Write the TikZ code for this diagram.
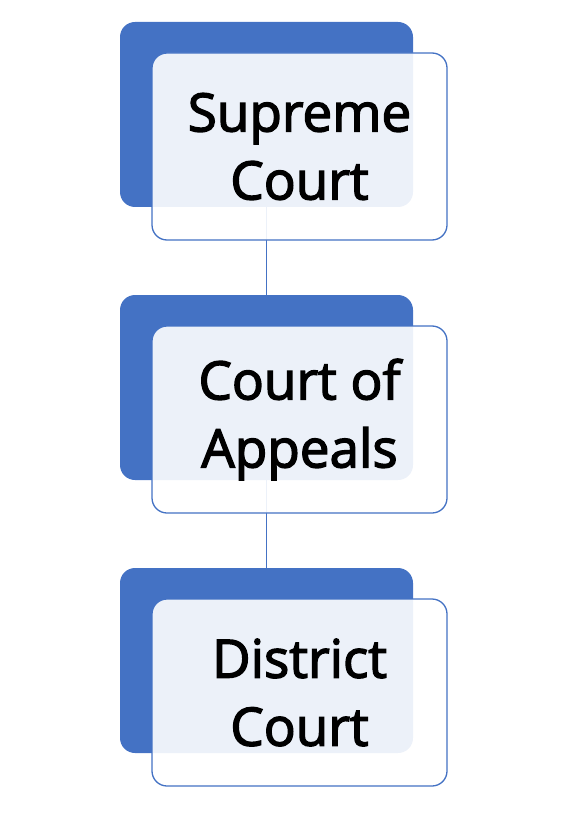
\documentclass[tikz,border=0pt]{standalone}
\usepackage{fontspec}
\setmainfont{Open Sans}
\newfontfamily\courtfont[BoldFont={Open Sans}, BoldFeatures={FakeBold=2.6}]{Open Sans}
\usepackage{tikz}
\definecolor{courtblue}{RGB}{68, 114, 196}

\begin{document}
\begin{tikzpicture}[x=1pt, y=-1pt,
    backbox/.style={fill=courtblue, rounded corners=15pt, minimum width=293pt, minimum height=185pt, inner sep=0pt},
    frontbox/.style={draw=courtblue, line width=1.3pt, fill=white, fill opacity=0.9, text opacity=1,
        rounded corners=15pt, minimum width=295pt, minimum height=187pt, inner sep=0pt,
        align=center, font=\courtfont\bfseries\fontsize{53}{68}\selectfont},
    link/.style={courtblue, line width=1.4pt}]
    \useasboundingbox (0,0) rectangle (584,826);

    % blaue Hintergrundkarten
    \node[backbox] (supremeBack) at (266.5,114.5) {};
    \node[backbox] (appealsBack) at (266.5,387.5) {};
    \node[backbox] (districtBack) at (266.5,660.5) {};

    % Verbindungen
    \draw[link] (supremeBack.south) -- (appealsBack.north);
    \draw[link] (appealsBack.south) -- (districtBack.north);

    % Vordergrundkarten mit Text
    \node[frontbox] (supreme) at (299.5,146.5) {Supreme\\Court};
    \node[frontbox] (appeals) at (299.5,419.5) {Court of\\Appeals};
    \node[frontbox] (district) at (299.5,692.5) {District\\Court};
\end{tikzpicture}
\end{document}
